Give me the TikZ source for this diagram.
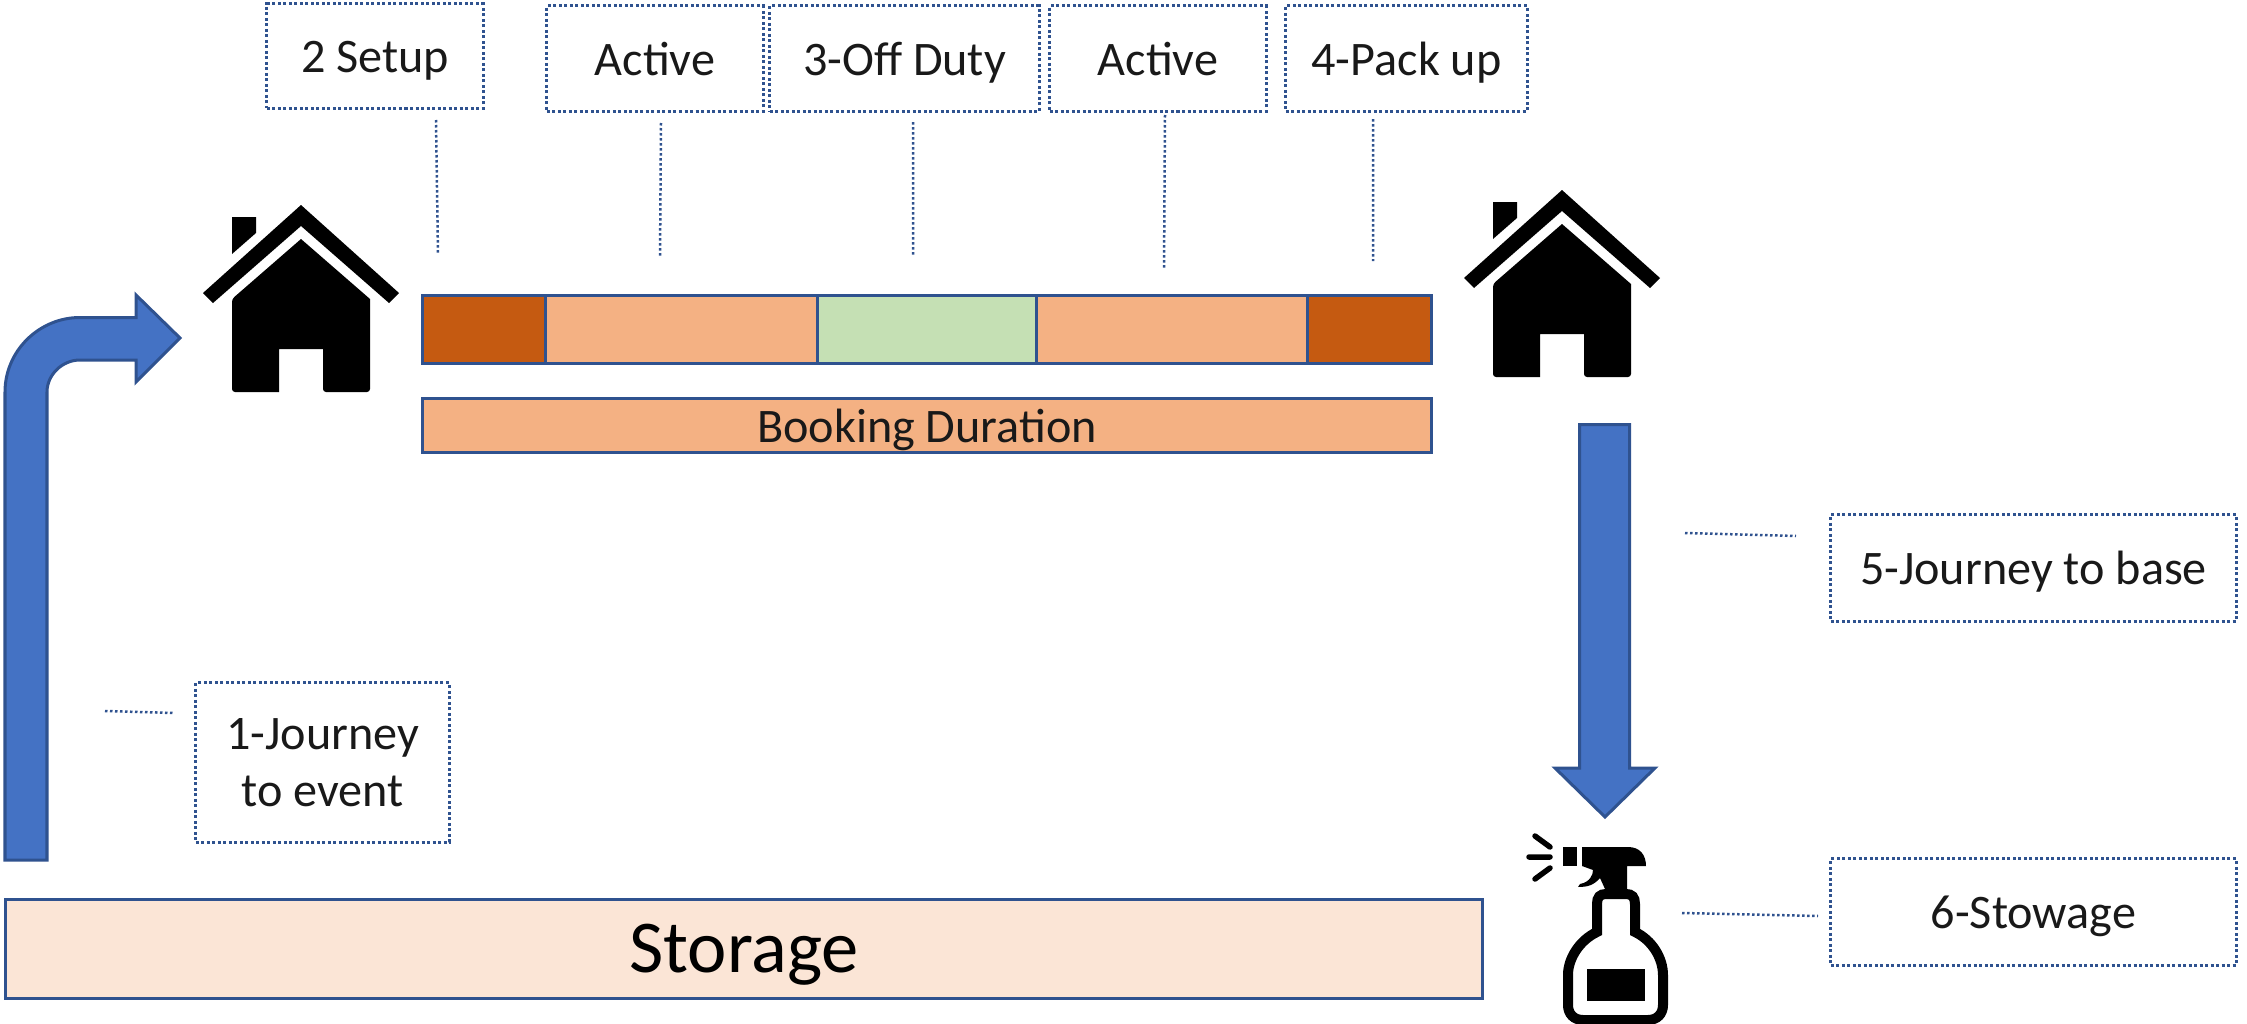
\documentclass[tikz,border=0pt]{standalone}
\usepackage{fontspec}
\setmainfont{Carlito}
\definecolor{edgeblue}{HTML}{2F528F}
\definecolor{arrowblue}{HTML}{4472C4}
\definecolor{darkorange}{HTML}{C55A11}
\definecolor{lightorange}{HTML}{F4B183}
\definecolor{lightgreen}{HTML}{C5E0B4}
\definecolor{paleorange}{HTML}{FBE5D6}
\tikzset{
  segbox/.style={draw=edgeblue,line width=0.03cm,inner sep=0pt,minimum height=0.68cm},
  notebox/.style={draw=edgeblue,line width=0.03cm,dash pattern=on 0.03cm off 0.025cm,
    inner sep=0pt,minimum height=1.05cm,align=center,text=black!90,
    font=\fontsize{13.7}{16.3}\selectfont},
  oneline/.style={text height=0.33cm,text depth=0cm},
  leader/.style={draw=edgeblue,line width=0.025cm,dash pattern=on 0.025cm off 0.025cm},
  blockarrow/.style={draw=edgeblue,line width=0.03cm,fill=arrowblue},
  housepic/.pic={
    % roof, chimney and body, measured from the top of the roof
    \fill (0,0) -- (98,88) -- (88,98) -- (0,21) -- (-88,98) -- (-98,88) -- cycle;
    \fill (-69,12) -- (-45,12) -- (-45,28) -- (-69,49) -- cycle;
    \fill (0,34) -- (69,94) [rounded corners=0.03cm] -- (69,187) -- (22,187) [sharp corners]
      -- (22,144) -- (-22,144) -- (-22,187) [rounded corners=0.03cm] -- (-69,187) -- (-69,94) [sharp corners] -- cycle;
  }
}
\begin{document}
\begin{tikzpicture}[x=0.01cm,y=-0.01cm]
  \useasboundingbox (0,0) rectangle (2247,1024);
  % top notes
  \node[notebox,oneline,minimum width=2.16cm,minimum height=1.04cm] (setup) at (375,56) {2 Setup};
  \node[notebox,oneline,minimum width=2.16cm] (activea) at (655,58.5) {Active};
  \node[notebox,oneline,minimum width=2.69cm] (offduty) at (904.5,58.5) {3-Off Duty};
  \node[notebox,oneline,minimum width=2.16cm] (activeb) at (1158,58.5) {Active};
  \node[notebox,oneline,minimum width=2.41cm] (packup) at (1406.5,58.5) {4-Pack up};
  % booking bar
  \node[segbox,fill=darkorange,minimum width=1.235cm] (sega) at (484.25,329.5) {};
  \node[segbox,fill=lightorange,minimum width=2.72cm] (segb) at (682,329.5) {};
  \node[segbox,fill=lightgreen,minimum width=2.19cm] (segc) at (927.5,329.5) {};
  \node[segbox,fill=lightorange,minimum width=2.71cm] (segd) at (1172.5,329.5) {};
  \node[segbox,fill=darkorange,minimum width=1.235cm] (sege) at (1369.75,329.5) {};
  \node[segbox,oneline,fill=lightorange,minimum width=10.09cm,minimum height=0.54cm,text=black!90,
    font=\fontsize{13.7}{15.9}\selectfont] (booking) at (927,425.5) {Booking Duration};
  \node[segbox,fill=paleorange,minimum width=14.77cm,minimum height=0.98cm,text height=0.47cm,text depth=0cm,
    font=\fontsize{21.2}{24}\selectfont] (storage) at (744,949) {Storage};
  % side notes
  \node[notebox,minimum width=2.53cm,minimum height=1.59cm,text depth=0cm] (journeya) at (322.5,762.5) {1-Journey\\to event};
  \node[notebox,oneline,minimum width=4.05cm,minimum height=1.06cm] (journeyb) at (2033.5,568) {5-Journey to base};
  \node[notebox,oneline,minimum width=4.05cm,minimum height=1.06cm] (stowage) at (2033.5,912) {6-Stowage};
  % free leader lines
  \coordinate (la) at (436,120);  \coordinate (lb) at (438,254);
  \coordinate (lc) at (661,123);  \coordinate (ld) at (660,258);
  \coordinate (le) at (913,122);  \coordinate (lf) at (913,257);
  \coordinate (lg) at (1165,115); \coordinate (lh) at (1164,270);
  \coordinate (li) at (1373,119); \coordinate (lj) at (1373,261);
  \coordinate (lk) at (105,711);  \coordinate (ll) at (174,713);
  \coordinate (lm) at (1685,533); \coordinate (ln) at (1796,536);
  \coordinate (lo) at (1682,913); \coordinate (lp) at (1818,916);
  \path[leader] (la) -- (lb) (lc) -- (ld) (le) -- (lf) (lg) -- (lh)
    (li) -- (lj) (lk) -- (ll) (lm) -- (ln) (lo) -- (lp);
  % journey arrows
  \draw[blockarrow] (5,860) -- (5,392) .. controls (5,351) and (39,317.5) .. (80,317.5)
    -- (136,317.5) -- (136,295) -- (180,338) -- (136,382) -- (136,360) -- (80,360)
    .. controls (62,360) and (47,375) .. (47,392) -- (47,860) -- cycle;
  \draw[blockarrow] (1579.5,424.5) -- (1629.5,424.5) -- (1629.5,768) -- (1655,768) -- (1605,817)
    -- (1555,768) -- (1579.5,768) -- cycle;
  % houses
  \pic at (301,205) {housepic};
  \pic at (1562,190) {housepic};
  % spray bottle
  \draw[line width=0.055cm,line cap=round] (1535,836) -- (1550,847) (1529,857) -- (1550,857) (1535,879) -- (1550,868);
  \fill (1563,847) rectangle (1577,866);
  \fill (1582,847) -- (1628,847) .. controls (1640,847) and (1646,855) .. (1646,866) -- (1627,866)
    -- (1627,889) -- (1605,889) -- (1600,878) .. controls (1594,885) and (1588,887) .. (1578,887)
    -- (1580,884) .. controls (1590,882) and (1593,875) .. (1593,870) -- (1582,866) -- cycle;
  \draw[line width=0.1cm] (1597,932) -- (1597,904) .. controls (1597,897) and (1600,894) .. (1606,894)
    -- (1626,894) .. controls (1632,894) and (1635,897) .. (1635,904) -- (1635,932)
    .. controls (1652,940) and (1663,958) .. (1663,975) -- (1663,1005)
    .. controls (1663,1014) and (1657,1020) .. (1648,1020) -- (1583,1020)
    .. controls (1574,1020) and (1568,1014) .. (1568,1005) -- (1568,975)
    .. controls (1568,958) and (1580,940) .. (1597,932) -- cycle;
  \fill (1587,969) rectangle (1645,1001);
\end{tikzpicture}
\end{document}
